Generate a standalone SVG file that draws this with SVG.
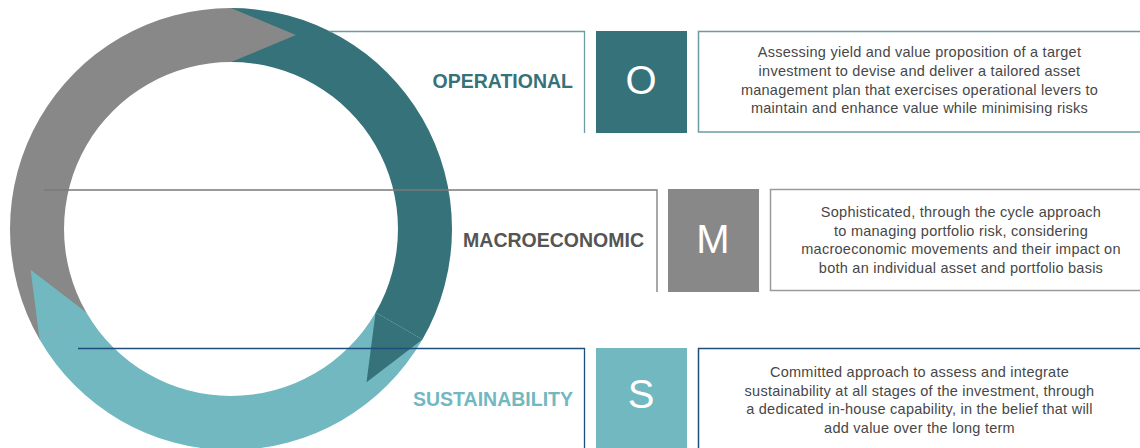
<svg xmlns="http://www.w3.org/2000/svg" width="1140" height="448" viewBox="0 0 1140 448">
  <style>
    .lbl{font-family:"Liberation Sans",Arial,sans-serif;font-weight:bold;font-size:19.5px;text-anchor:end}
    .let{font-family:"Liberation Sans",Arial,sans-serif;font-size:40px;fill:#ffffff;text-anchor:middle}
    .desc{font-family:"Liberation Sans",Arial,sans-serif;font-size:14.5px;letter-spacing:0.25px;fill:#474747;text-anchor:middle}
    .conn{fill:none;stroke-width:1.3}
    .dbox{fill:#ffffff;stroke-width:1.5}
  </style>
  <rect width="1140" height="448" fill="#ffffff"/>

  <g id="cycle">
    <path d="M231,8 A221,221 0 0 1 422.4,339.5 L375.6,312.5 A167,167 0 0 0 231,62 Z" fill="#367279"/>
    <path d="M422.4,339.5 A221,221 0 0 1 39.6,339.5 L86.4,312.5 A167,167 0 0 0 375.6,312.5 Z" fill="#71b8c1"/>
    <path d="M39.6,339.5 A221,221 0 0 1 231,8 L231,62 A167,167 0 0 0 86.4,312.5 Z" fill="#888888"/>
    <polygon points="231,8 295.9,35.1 231,62" fill="#888888"/>
    <polygon points="422.4,339.5 366.5,382.2 375.6,312.5" fill="#367279"/>
    <polygon points="86.4,312.5 30.6,269.8 39.6,339.5" fill="#71b8c1"/>
  </g>

  <g id="connectors">
    <polyline class="conn" points="329,31.5 584.5,31.5 584.5,133" stroke="#6a9ca1"/>
    <polyline class="conn" points="44,190 657,190 657,292" stroke="#7a7a7a"/>
    <polyline class="conn" points="78,348.5 584.5,348.5 584.5,450" stroke="#1f4e7c"/>
  </g>

  <g id="operational">
    <text class="lbl" x="573" y="88" fill="#367279">OPERATIONAL</text>
    <rect x="596" y="31" width="91" height="102" fill="#367279"/>
    <text class="let" x="641" y="94">O</text>
    <rect class="dbox" x="698.5" y="31.5" width="460" height="100.5" stroke="#6a9ca1"/>
    <text class="desc" x="919.5" y="57">Assessing yield and value proposition of a target</text>
    <text class="desc" x="919.5" y="75.8">investment to devise and deliver a tailored asset</text>
    <text class="desc" x="919.5" y="94.6">management plan that exercises operational levers to</text>
    <text class="desc" x="919.5" y="113.4">maintain and enhance value while minimising risks</text>
  </g>

  <g id="macroeconomic">
    <text class="lbl" x="644" y="247" fill="#555555">MACROECONOMIC</text>
    <rect x="668" y="189" width="91" height="103" fill="#888888"/>
    <text class="let" x="713" y="253">M</text>
    <rect class="dbox" x="770.5" y="189.5" width="400" height="101" stroke="#9a9a9a"/>
    <text class="desc" x="961" y="217">Sophisticated, through the cycle approach</text>
    <text class="desc" x="961" y="235.7">to managing portfolio risk, considering</text>
    <text class="desc" x="961" y="254.4">macroeconomic movements and their impact on</text>
    <text class="desc" x="961" y="273.1">both an individual asset and portfolio basis</text>
  </g>

  <g id="sustainability">
    <text class="lbl" x="573" y="406" fill="#71b8c1">SUSTAINABILITY</text>
    <rect x="596" y="348" width="91" height="110" fill="#71b8c1"/>
    <text class="let" x="641" y="408">S</text>
    <rect class="dbox" x="698.5" y="348.5" width="460" height="120" stroke="#1f4e7c"/>
    <text class="desc" x="919.5" y="377">Committed approach to assess and integrate</text>
    <text class="desc" x="919.5" y="395.7">sustainability at all stages of the investment, through</text>
    <text class="desc" x="919.5" y="414.4">a dedicated in-house capability, in the belief that will</text>
    <text class="desc" x="919.5" y="433.1">add value over the long term</text>
  </g>
</svg>
